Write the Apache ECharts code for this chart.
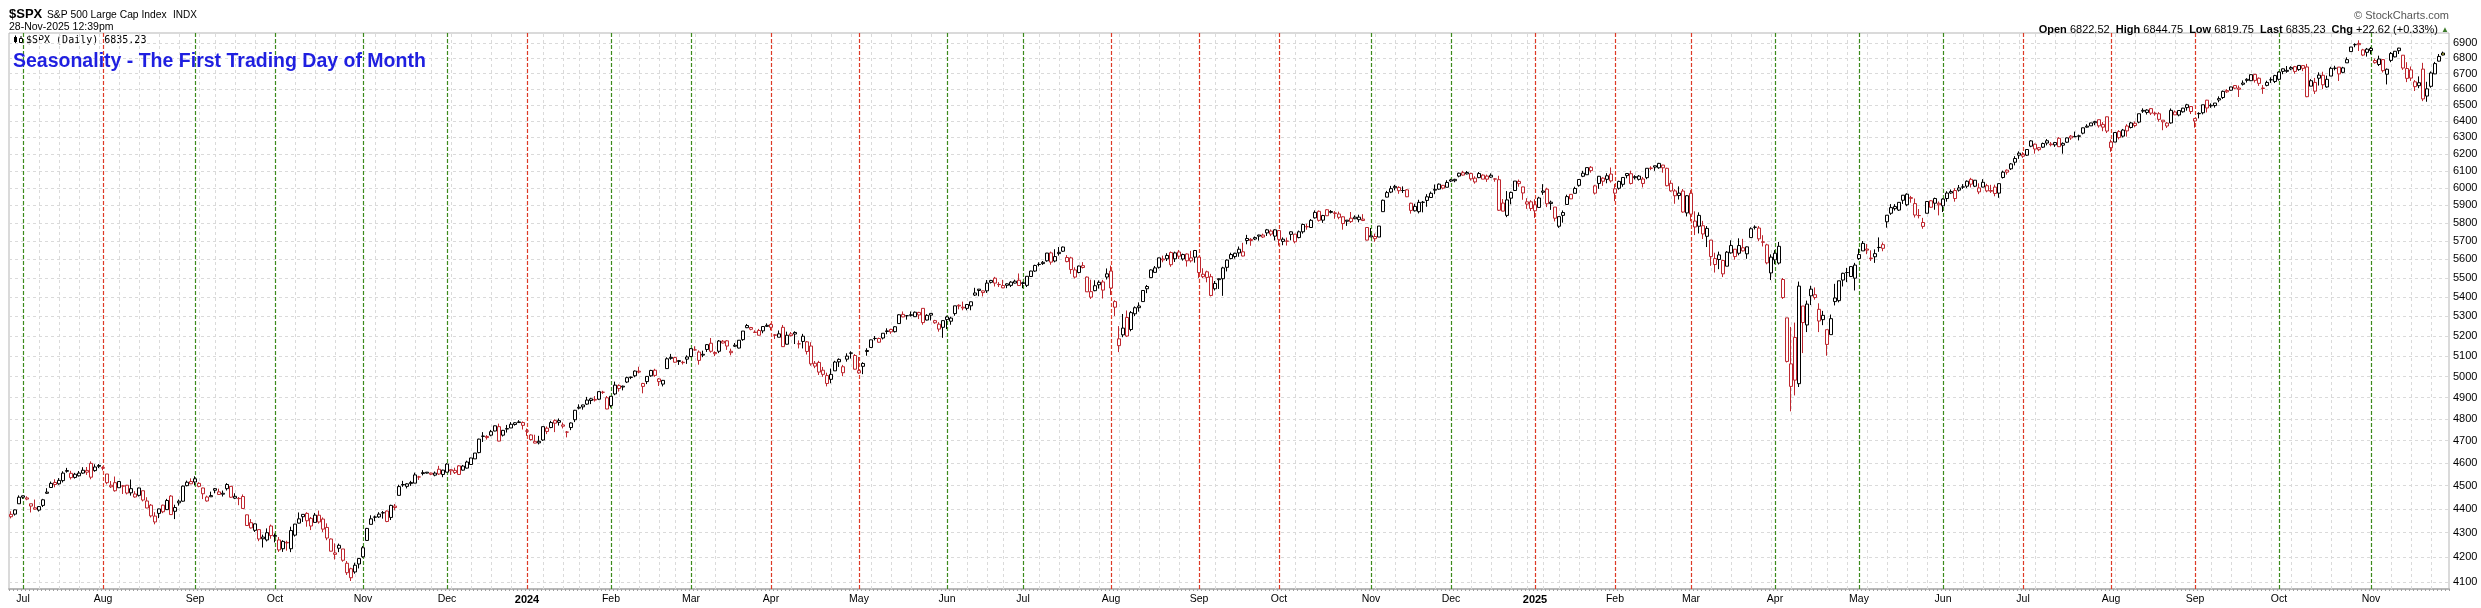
<!DOCTYPE html>
<html><head><meta charset="utf-8">
<script src="https://cdn.jsdelivr.net/npm/echarts@6/dist/echarts.min.js"></script>
<style>html,body{margin:0;padding:0;background:#fff;}#c{width:2481px;height:608px;}</style>
</head><body><div id="c"></div>
<script>
// ---- Daily rows per month: [open, high, low, close] ($SPX) ----
const priorClose = 4378.41; // close before first visible day
const m2023_06=[[4367,4390,4360,4377],[4378,4398,4372,4396],[4422,4458,4422,4450]];
const m2023_07=[[4450,4457,4443,4456],[4442,4454,4437,4447],[4422,4422,4385,4412],[4405,4440,4397,4399],[4395,4412,4389,4410],[4415,4443,4408,4439],[4467,4489,4464,4472],[4492,4518,4492,4510],[4514,4528,4493,4505],[4508,4533,4504,4523],[4522,4563,4514,4555],[4563,4578,4557,4566],[4554,4565,4527,4535],[4550,4556,4531,4536],[4543,4564,4540,4555],[4555,4581,4552,4567.5],[4559,4582,4547,4566.8],[4598,4607,4528,4537],[4566,4594,4561,4582],[4585,4595,4577,4589]];
const m2023_08=[[4579,4585,4567,4577],[4551,4551,4506,4513],[4495,4520,4490,4502],[4513,4540,4474,4478],[4491,4520,4491,4518],[4498,4503,4464,4499],[4502,4503,4462,4468],[4487,4527,4457,4469],[4451,4476,4448,4464],[4458,4491,4453,4490],[4478,4478,4432,4438],[4434,4450,4403,4404],[4416,4421,4364,4370.4],[4345,4386,4335,4369.7],[4381,4401,4361,4400],[4416,4418,4382,4388],[4397,4443,4396,4436],[4455,4459,4375,4376],[4390,4418,4357,4406],[4426,4440,4414,4433],[4433,4501,4431,4498],[4500,4522,4497,4515],[4518,4532,4507,4508]];
const m2023_09=[[4530,4541,4501,4516],[4510,4515,4493,4497],[4490,4491,4442,4465],[4434,4457,4431,4451],[4452,4474,4452,4457],[4480,4490,4467,4487],[4473,4487,4460,4462],[4463,4479,4453,4467],[4487,4511,4479,4505],[4497,4498,4447,4450],[4446,4467,4442,4454],[4445,4451,4416,4444],[4453,4462,4401,4402],[4375,4376,4329,4330],[4342,4357,4317,4320],[4310,4338,4303,4337],[4313,4314,4265,4274],[4282,4292,4239,4275],[4270,4318,4264,4300],[4328,4334,4275,4288.1]];
const m2023_10=[[4285,4297,4260,4288.4],[4270,4282,4221,4229],[4234,4269,4221,4264],[4260,4267,4226,4258],[4234,4325,4220,4309],[4290,4337,4284,4336],[4340,4385,4339,4358],[4367,4378,4345,4377],[4381,4386,4325,4350],[4360,4366,4311,4328],[4343,4383,4343,4373.6],[4345,4393,4338,4373.2],[4357,4364,4303,4315],[4322,4339,4269,4278],[4274,4276,4223,4224],[4211,4256,4190,4217],[4236,4255,4220,4248],[4233,4233,4181,4187],[4175,4184,4128,4137],[4153,4157,4104,4117],[4140,4177,4133,4167],[4172,4195,4154,4194]];
const m2023_11=[[4201,4245,4197,4238],[4268,4320,4268,4318],[4335,4373,4335,4358],[4365,4372,4348,4366],[4366,4386,4362,4378],[4384,4391,4359,4383],[4391,4393,4344,4347],[4364,4418,4353,4415],[4406,4421,4394,4412],[4458,4504,4458,4496],[4505,4521,4495,4503],[4497,4511,4488,4508],[4509,4521,4499,4514],[4511,4557,4511,4547],[4538,4543,4525,4538],[4553,4568,4545,4557],[4555,4560,4553,4559],[4555,4557,4546,4550],[4546,4562,4541,4555],[4572,4587,4547,4551],[4549,4570,4537,4568]];
const m2023_12=[[4559,4599,4558,4595],[4565,4572,4547,4570],[4557,4579,4551,4567],[4587,4590,4547,4549],[4568,4591,4566,4586],[4577,4610,4575,4604],[4593,4623,4593,4622],[4618,4644,4618,4644],[4646,4709,4643,4707],[4721,4739,4694,4719.6],[4714,4725,4705,4719.2],[4725,4749,4720,4741],[4744,4769,4743,4768],[4764,4778,4697,4698],[4725,4749,4719,4747],[4753,4772,4737,4755],[4758,4785,4758,4775],[4774,4785,4769,4782],[4786,4794,4781,4783],[4783,4788,4751,4770]];
const m2024_01=[[4745,4755,4722,4743],[4726,4729,4700,4705],[4697,4727,4688,4689],[4690,4722,4683,4697],[4703,4765,4699,4764],[4742,4765,4730,4757],[4760,4791,4757,4783],[4792,4798,4739,4780],[4792,4802,4769,4784],[4772,4783,4756,4766],[4739,4744,4715,4739],[4760,4784,4748,4781],[4796,4842,4785,4840],[4854,4868,4844,4850],[4856,4866,4843,4865],[4888,4903,4865,4869],[4886,4899,4869,4894],[4888,4907,4881,4891],[4892,4929,4888,4928],[4925,4932,4917,4925],[4899,4907,4845,4846]];
const m2024_02=[[4862,4907,4853,4906],[4917,4976,4911,4959],[4957,4963,4928,4943],[4950,4957,4934,4954],[4974,5000,4969,4995],[4996,5000,4988,4998],[5004,5030,4997,5027],[5026,5048,5016,5022],[4967,4970,4920,4953],[4976,5003,4964,5001],[5004,5033,4999,5030],[5031,5038,4999,5006],[4989,4993,4955,4976],[4964,4984,4953,4982],[5039,5094,5038,5087],[5094,5111,5082,5089],[5093,5097,5068,5070],[5074,5081,5057,5078],[5068,5077,5059,5070],[5085,5104,5062,5096]];
const m2024_03=[[5098,5140,5095,5137],[5131,5149,5127,5131],[5120,5128,5058,5079],[5109,5127,5095,5105],[5133,5160,5121,5157],[5164,5190,5117,5124],[5112,5124,5100,5118],[5124,5180,5115,5175],[5174,5180,5163,5165],[5176,5180,5131,5150],[5124,5137,5104,5117],[5154,5165,5145,5149],[5140,5180,5138,5179],[5182,5225,5176,5225],[5253,5261,5240,5242],[5243,5246,5229,5234],[5220,5229,5216,5218],[5228,5236,5203,5204],[5226,5249,5214,5248],[5249,5264,5246,5254]];
const m2024_04=[[5258,5264,5229,5244],[5204,5209,5185,5206],[5194,5228,5194,5211],[5244,5256,5146,5147],[5159,5222,5158,5204],[5211,5220,5198,5202],[5218,5224,5160,5210],[5161,5178,5138,5161],[5173,5211,5138,5199],[5171,5175,5108,5123],[5150,5169,5053,5062],[5065,5076,5041,5051],[5069,5077,5008,5022],[5031,5047,4999,5011],[5005,5019,4953,4967],[4987,5039,4968,5011],[5028,5077,5028,5071],[5084,5089,5047,5072],[5019,5057,5002,5048],[5085,5114,5073,5100],[5114,5124,5088,5116],[5103,5110,5035,5036]];
const m2024_05=[[5029,5096,5014,5018],[5050,5070,5012,5064],[5123,5139,5102,5128],[5143,5182,5143,5181],[5188,5200,5178,5187.70],[5169,5192,5166,5187.67],[5190,5214,5183,5214],[5226,5239,5209,5223],[5233,5237,5211,5221],[5222,5250,5218,5247],[5263,5311,5263,5308],[5310,5325,5296,5297],[5303,5306,5283,5303],[5305,5325,5299,5308],[5298,5325,5297,5321],[5320,5323,5286,5307],[5341,5342,5257,5268],[5281,5311,5279,5305],[5315,5315,5279,5306],[5278,5282,5262,5267],[5260,5270,5222,5235],[5244,5280,5191,5278]];
const m2024_06=[[5297,5303,5235,5283],[5275,5298,5257,5291],[5314,5354,5303,5354],[5357,5362,5336,5353],[5343,5376,5331,5347],[5341,5362,5331,5361],[5354,5376,5331,5375],[5410,5448,5405,5421],[5441,5442,5404,5434],[5423,5433,5403,5432],[5432,5489,5421,5473],[5477,5490,5471,5487],[5499,5506,5455,5473],[5466,5478,5452,5465],[5460,5490,5446,5448],[5461,5472,5446,5469],[5461,5483,5452,5478],[5473,5491,5471,5483],[5488,5524,5460,5460]];
const m2024_07=[[5471,5480,5446,5475],[5461,5510,5452,5509],[5508,5539,5507,5537],[5537,5571,5533,5567],[5572,5584,5562,5573],[5584,5591,5570,5577],[5592,5635,5587,5634],[5635,5642,5571,5585],[5591,5655,5584,5615],[5638,5667,5620,5631],[5644,5670,5640,5667],[5610,5623,5584,5588],[5608,5614,5522,5545],[5543,5557,5497,5505],[5529,5566,5525,5564],[5566,5585,5551,5556],[5505,5508,5426,5427],[5428,5491,5390,5399],[5433,5488,5430,5459],[5477,5487,5444,5464],[5479,5490,5392,5436],[5505,5551,5492,5522]];
const m2024_08=[[5537,5566,5410,5447],[5376,5383,5302,5347],[5152,5250,5120,5186],[5206,5312,5194,5240],[5294,5330,5195,5200],[5233,5327,5224,5319],[5313,5351,5301,5344.2],[5353,5372,5324,5344.4],[5376,5436,5376,5434],[5443,5463,5420,5455],[5502,5546,5502,5543],[5530,5564,5528,5554],[5557,5609,5550,5608],[5602,5620,5584,5597],[5603,5633,5591,5621],[5637,5643,5560,5571],[5603,5642,5586,5635],[5640,5651,5602,5617],[5602,5631,5593,5626],[5629,5632,5561,5592.2],[5608,5646,5583,5592.0],[5612,5651,5582,5648]];
const m2024_09=[[5612,5615,5500,5529],[5507,5552,5499,5520],[5533,5539,5477,5503],[5507,5522,5403,5408],[5443,5484,5434,5471],[5491,5497,5442,5496],[5496,5560,5406,5554],[5557,5600,5535,5596],[5604,5636,5600,5626],[5615,5636,5604,5633],[5655,5670,5614,5635],[5641,5690,5616,5618],[5703,5734,5682,5714],[5709,5716,5674,5703],[5711,5725,5705,5719],[5727,5735,5702,5733],[5733,5741,5717,5722],[5762,5767,5728,5745],[5755,5764,5727,5738],[5727,5765,5703,5762]];
const m2024_10=[[5758,5758,5675,5709],[5698,5720,5677,5710],[5699,5719,5675,5700],[5737,5753,5704,5751],[5738,5739,5687,5696],[5719,5758,5715,5751],[5751,5797,5741,5792],[5779,5796,5763,5780],[5775,5822,5775,5815],[5829,5871,5825,5860],[5866,5871,5808,5815],[5816,5846,5801,5842],[5875,5878,5840,5841],[5860,5873,5854,5865],[5857,5867,5824,5854],[5832,5864,5821,5851],[5835,5838,5763,5797],[5816,5817,5784,5810],[5827,5862,5800,5808],[5833,5843,5822,5824],[5819,5847,5804,5833],[5822,5850,5811,5814],[5775,5775,5703,5705]];
const m2024_11=[[5723,5772,5723,5729],[5725,5741,5696,5713],[5722,5783,5722,5783],[5864,5933,5864,5929],[5947,5983,5946,5973],[5976,6012,5970,5996],[6009,6018,5986,6001],[6003,6010,5966,5984],[5985,6009,5971,5985],[5989,5993,5947,5949],[5912,5915,5853,5871],[5869,5909,5865,5894],[5864,5932,5854,5916.98],[5918,5925,5860,5917.11],[5928,5964,5892,5949],[5945,5979,5944,5969],[5992,6020,5964,5987],[5993,6026,5989,6022],[6015,6017,5992,5999],[6004,6045,6004,6032]];
const m2024_12=[[6040,6053,6034,6047],[6042,6053,6033,6050],[6069,6089,6062,6086],[6089,6100,6072,6075],[6082,6099,6079,6090],[6084,6089,6043,6053],[6057,6068,6025,6035],[6060,6093,6057,6084],[6075,6079,6051,6051.25],[6069,6078,6035,6051.09],[6063,6085,6059,6074],[6053,6057,6036,6051],[6048,6071,5868,5872],[5913,5936,5866,5867],[5843,5982,5833,5931],[5941,5979,5906,5974],[5985,6040,5983,6040],[6025,6049,6007,6038],[6006,6007,5932,5971],[5920,5941,5880,5907],[5920,5929,5868,5882]];
const m2025_01=[[5903,5935,5829,5869],[5888,5949,5888,5942],[5982,6022,5960,5975],[5993,6001,5890,5909],[5910,5927,5874,5918],[5890,5890,5809,5827],[5782,5836,5773,5836],[5859,5871,5802,5843],[5905,5961,5905,5950],[5963,5964,5938,5937],[5969,6007,5969,5997],[6015,6052,6007,6049],[6068,6100,6063,6086],[6077,6119,6077,6119],[6121,6128,6089,6101],[5970,6018,5962,6012],[6026,6070,5995,6068],[6057,6062,6012,6039],[6050,6086,6027,6071],[6081,6120,6031,6041]];
const m2025_02=[[5970,6023,5924,5995],[5998,6042,5990,6038],[6021,6062,6007,6061],[6072,6084,6056,6084],[6083,6101,6020,6026],[6060,6074,6049,6066],[6050,6075,6043,6069],[6026,6064,6003,6052],[6060,6116,6051,6115.07],[6116,6127,6104,6114.63],[6122,6130,6100,6130],[6118,6147,6112,6144],[6134,6135,6089,6118],[6115,6118,6009,6013],[6027,6044,5978,5983],[5983,5993,5909,5955],[5970,6009,5933,5956],[5982,5994,5858,5862],[5857,5959,5837,5955]];
const m2025_03=[[5969,5987,5810,5850],[5811,5866,5733,5778],[5782,5860,5742,5843],[5785,5812,5711,5739],[5726,5783,5667,5770],[5705,5706,5565,5615],[5604,5636,5529,5572],[5624,5642,5547,5599],[5594,5598,5505,5522],[5563,5645,5563,5639],[5635,5704,5631,5675],[5655,5655,5598,5615],[5633,5715,5622,5675],[5646,5712,5643,5663],[5630,5670,5603,5668],[5719,5776,5719,5768],[5776,5787,5764,5777],[5772,5783,5699,5712],[5696,5732,5670,5693],[5679,5685,5573,5581],[5527,5627,5489,5612]];
const m2025_04=[[5597,5650,5574,5633],[5580,5695,5572,5671],[5492,5500,5390,5397],[5292,5292,5069,5074],[4953,5246,4835,5062],[5193,5268,4910,4983],[4966,5481,4950,5457],[5353,5353,5115,5268],[5256,5381,5220,5363],[5441,5459,5358,5406],[5412,5450,5386,5397],[5336,5367,5220,5276],[5305,5328,5255,5283],[5232,5232,5102,5158],[5207,5309,5207,5288],[5395,5469,5356,5376],[5381,5485,5372,5485],[5489,5528,5455,5525],[5529,5554,5478,5529],[5508,5563,5505,5561],[5499,5581,5434,5569]];
const m2025_05=[[5626,5658,5597,5604],[5646,5700,5646,5687],[5656,5684,5628,5650],[5604,5649,5591,5607],[5614,5654,5581,5631],[5665,5720,5641,5664],[5680,5692,5644,5660],[5807,5845,5774,5844],[5855,5907,5846,5887],[5881,5907,5870,5893],[5873,5917,5868,5917],[5929,5959,5908,5958],[5903,5969,5895,5964],[5944,5954,5915,5940],[5910,5939,5831,5845],[5842,5879,5826,5842],[5781,5829,5768,5803],[5855,5922,5855,5922],[5926,5930,5887,5889],[5939,5944,5875,5912.2],[5903,5922,5843,5911.7]];
const m2025_06=[[5897,5940,5862,5936],[5939,5981,5921,5970.4],[5979,5991,5966,5970.8],[5985,5999,5921,5939],[5987,6017,5979,6000],[6005,6022,5994,6006],[6010,6044,5999,6039],[6050,6059,6003,6022],[6010,6046,6005,6045],[6000,6027,5964,5977],[6005,6051,6004,6033],[6013,6024,5975,5983],[5985,6018,5971,5981],[6005,6019,5952,5968],[5970,6025,5943,6025],[6061,6101,6055,6092.18],[6104,6108,6078,6092.16],[6112,6146,6105,6141],[6151,6187,6132,6173],[6193,6216,6171,6205]];
const m2025_07=[[6187,6211,6177,6198],[6193,6228,6189,6227],[6247,6284,6241,6279],[6259,6263,6202,6230],[6238,6242,6217,6226],[6241,6269,6236,6263],[6266,6290,6252,6280],[6256,6272,6246,6260],[6255,6273,6243,6269],[6295,6302,6242,6244],[6253,6270,6202,6264],[6271,6300,6266,6297.36],[6308,6315,6285,6296.79],[6304,6336,6304,6306],[6307,6317,6282,6310],[6326,6360,6319,6359],[6369,6381,6360,6363],[6371,6390,6370,6389],[6397,6402,6375,6390],[6409,6409,6360,6371],[6380,6394,6338,6363],[6427,6428,6327,6339]];
const m2025_08=[[6272,6287,6213,6238],[6272,6330,6272,6330],[6336,6345,6288,6299],[6308,6352,6300,6345],[6370,6381,6305,6340],[6361,6396,6355,6389],[6387,6398,6362,6373],[6394,6446,6387,6446],[6462,6480,6451,6467],[6454,6474,6441,6469],[6478,6482,6438,6449.8],[6446,6459,6434,6449.2],[6446,6456,6397,6411],[6406,6406,6344,6396],[6388,6394,6358,6370],[6389,6479,6384,6467],[6457,6466,6439,6439],[6438,6468,6430,6466],[6458,6483,6453,6481],[6484,6508,6465,6502],[6491,6493,6444,6460]];
const m2025_09=[[6401,6416,6360,6416],[6446,6455,6417,6448],[6452,6502,6442,6502],[6531,6533,6454,6482],[6499,6511,6483,6495],[6497,6513,6484,6513],[6541,6555,6518,6532],[6548,6592,6539,6587],[6592,6601,6577,6584],[6594,6616,6591,6615],[6624,6627,6600,6607],[6608,6624,6551,6600],[6640,6657,6624,6632],[6657,6671,6643,6664],[6655,6695,6653,6694],[6696,6698,6643,6657],[6671,6676,6622,6638],[6608,6627,6571,6605],[6625,6655,6619,6644],[6661,6677,6641,6661],[6650,6693,6640,6688]];
const m2025_10=[[6664,6716,6656,6711],[6732,6734,6697,6715.35],[6722,6750,6706,6715.79],[6731,6749,6723,6740],[6746,6751,6700,6715],[6727,6755,6719,6754],[6753,6756,6717,6735],[6744,6764,6550,6553],[6620,6665,6620,6655],[6588,6673,6570,6644],[6691,6709,6624,6671],[6690,6713,6601,6629],[6615,6688,6610,6664],[6685,6745,6685,6735.13],[6736,6752,6722,6735.35],[6743,6744,6653,6699],[6709,6745,6703,6738],[6771,6807,6770,6792],[6845,6876,6845,6875],[6891,6900,6874,6890.89],[6899,6920,6849,6890.59],[6856,6863,6815,6822],[6861,6869,6812,6840]];
const m2025_11=[[6866,6876,6827,6852],[6786,6799,6766,6772],[6760,6818,6750,6796],[6792,6795,6708,6720],[6697,6734,6631,6729],[6787,6842,6775,6832],[6810,6849,6807,6847],[6868,6870,6829,6851],[6821,6822,6725,6737],[6670,6775,6646,6734],[6725,6747,6654,6672],[6648,6659,6589,6617],[6623,6683,6607,6642],[6730,6771,6525,6539],[6557,6648,6521,6603],[6619,6715,6610,6705],[6699,6777,6698,6766],[6782,6829,6780,6813],[6822.52,6844.75,6819.75,6835.23]];

// price tick labels on the right axis
const priceTicks = [4100,4200,4300,4400,4500,4600,4700,4800,4900,5000,5100,5200,5300,5400,5500,5600,5700,5800,5900,6000,6100,6200,6300,6400,6500,6600,6700,6800,6900];
const monthNames = ['Jan','Feb','Mar','Apr','May','Jun','Jul','Aug','Sep','Oct','Nov','Dec'];
const holidays = new Set(['2023-07-04','2023-09-04','2023-11-23','2023-12-25','2024-01-01','2024-01-15','2024-02-19','2024-03-29','2024-05-27','2024-06-19','2024-07-04','2024-09-02','2024-11-28','2024-12-25','2025-01-01','2025-01-09','2025-01-20','2025-02-17','2025-04-18','2025-05-26','2025-06-19','2025-07-04','2025-09-01','2025-11-27']);

const monthBlocks = [[2023,6,28,m2023_06],[2023,7,1,m2023_07],[2023,8,1,m2023_08],[2023,9,1,m2023_09],[2023,10,1,m2023_10],[2023,11,1,m2023_11],[2023,12,1,m2023_12],
[2024,1,1,m2024_01],[2024,2,1,m2024_02],[2024,3,1,m2024_03],[2024,4,1,m2024_04],[2024,5,1,m2024_05],[2024,6,1,m2024_06],[2024,7,1,m2024_07],[2024,8,1,m2024_08],[2024,9,1,m2024_09],[2024,10,1,m2024_10],[2024,11,1,m2024_11],[2024,12,1,m2024_12],
[2025,1,1,m2025_01],[2025,2,1,m2025_02],[2025,3,1,m2025_03],[2025,4,1,m2025_04],[2025,5,1,m2025_05],[2025,6,1,m2025_06],[2025,7,1,m2025_07],[2025,8,1,m2025_08],[2025,9,1,m2025_09],[2025,10,1,m2025_10],[2025,11,1,m2025_11]];

const dates=[], ohlc=[], dayNum=[];
monthBlocks.forEach(([y,m,start,rows])=>{
  const days=[], nums=[];
  const nd = new Date(Date.UTC(y,m,0)).getUTCDate();
  for(let d=start; d<=nd; d++){
    const t = Date.UTC(y,m-1,d); const wd = new Date(t).getUTCDay();
    const s = y+'-'+String(m).padStart(2,'0')+'-'+String(d).padStart(2,'0');
    if(wd===0||wd===6||holidays.has(s)) continue;
    days.push(s); nums.push(Math.round(t/86400000));
  }
  if(m===11 && y===2025){ days.length = rows.length; nums.length = rows.length; }
  if(days.length!==rows.length) throw new Error('count mismatch '+y+'-'+m+': '+days.length+' vs '+rows.length);
  days.forEach((s,i)=>{dates.push(s); ohlc.push(rows[i]); dayNum.push(nums[i]);});
});

const RED='#be262e', BLK='#000000', GRN='#3c8a1c', REDL='#dd3a26', GRID='#dadada';
const candleData = ohlc.map((r,i)=>{
  const [o,h,l,c]=r; const prev = i? ohlc[i-1][3] : priorClose;
  const col = c>=prev?BLK:RED;
  const last = i===ohlc.length-1;
  return {value:[o,c,l,h], itemStyle:{color:last?'#ffff55':'#ffffff', color0:col, borderColor:col, borderColor0:col}};
});

const monthStarts=[], weekStarts=[];
for(let i=1;i<dates.length;i++){
  if(dates[i].slice(5,7)!==dates[i-1].slice(5,7)) monthStarts.push(i);
  if(Math.floor((dayNum[i]+3)/7)!==Math.floor((dayNum[i-1]+3)/7)) weekStarts.push(i);
}
const monthSet = new Set(monthStarts);
const cats = dates.concat(['']);

const FONT='"Liberation Sans", Arial, sans-serif';
const chart = echarts.init(document.getElementById('c'), null, {renderer:'canvas'});
chart.setOption({
  animation:false,
  backgroundColor:'#ffffff',
  textStyle:{fontFamily:FONT},
  grid:{left:9, top:33, width:2440, height:556, show:true, borderColor:'#b5b5b5', borderWidth:1, backgroundColor:'#ffffff'},
  xAxis:{type:'category', data:cats, boundaryGap:true,
    axisLine:{show:true, lineStyle:{color:'#b8b8b8', width:2}},
    axisTick:{show:true, interval:0, length:2, lineStyle:{color:'#a0a0a0'}},
    axisLabel:{interval:(i)=>monthSet.has(i), margin:5, color:'#000', fontSize:10.5, fontFamily:FONT,
      formatter:(v,i)=>{ if(!v) return ''; const mo=+v.slice(5,7); return mo===1? '{y|'+v.slice(0,4)+'}' : monthNames[mo-1]; },
      rich:{y:{fontWeight:'bold', fontSize:11, fontFamily:FONT, color:'#000'}}},
    splitLine:{show:false}},
  yAxis:{type:'log', logBase:10, min:4072.4, max:6969, position:'right', scale:true,
    axisLine:{show:false}, axisTick:{show:false}, axisLabel:{show:false}, splitLine:{show:false}, minorSplitLine:{show:false}},
  graphic:[
    {type:'text', x:9, y:14, style:{text:'$SPX', font:'bold 13px '+FONT, fill:'#000', verticalAlign:'middle'}},
    {type:'text', x:47, y:15, style:{text:'S&P 500 Large Cap Index', font:'10.3px '+FONT, fill:'#000', verticalAlign:'middle'}},
    {type:'text', x:173, y:15, style:{text:'INDX', font:'10px '+FONT, fill:'#000', verticalAlign:'middle'}},
    {type:'text', x:9, y:27, style:{text:'28-Nov-2025 12:39pm', font:'10.5px '+FONT, fill:'#000', verticalAlign:'middle'}},
    {type:'text', x:2449, y:16, style:{text:'© StockCharts.com', font:'11px '+FONT, fill:'#555', align:'right', verticalAlign:'middle'}},
    {type:'text', x:2438, y:30, style:{text:'{b|Open} 6822.52  {b|High} 6844.75  {b|Low} 6819.75  {b|Last} 6835.23  {b|Chg} +22.62 (+0.33%)', font:'11px '+FONT, fill:'#000', align:'right', verticalAlign:'middle', rich:{b:{font:'bold 11px '+FONT, fill:'#000'}}}},
    {type:'text', x:2445, y:30, style:{text:'▲', font:'8px '+FONT, fill:'#3c7a2a', align:'center', verticalAlign:'middle'}},
    {type:'rect', shape:{x:14, y:37, width:3, height:5}, style:{fill:'#000'}},
    {type:'line', shape:{x1:15.5, y1:35.5, x2:15.5, y2:44}, style:{stroke:'#000', lineWidth:1}},
    {type:'rect', shape:{x:19.5, y:38.5, width:3, height:4}, style:{fill:'#fff', stroke:'#000', lineWidth:1}},
    {type:'line', shape:{x1:21, y1:36, x2:21, y2:38.5}, style:{stroke:'#000', lineWidth:1}},
    {type:'text', x:26, y:40, style:{text:'$SPX (Daily) 6835.23', font:'10px "DejaVu Sans Mono", monospace', fill:'#000', verticalAlign:'middle'}},
    {type:'text', x:13, y:62, style:{text:'Seasonality - The First Trading Day of Month', font:'bold 19.5px '+FONT, fill:'#1f1fe0', verticalAlign:'middle'}, z:100}
  ],
  series:[
    {type:'line', name:'grid', data:[], z:1, silent:true,
      markLine:{silent:true, symbol:['none','none'], animation:false,
        lineStyle:{color:GRID, width:1, type:[3,3]},
        label:{show:false},
        data: weekStarts.map(i=>({xAxis:dates[i]})).concat(priceTicks.map(v=>({yAxis:v,
          label:{show:true, position:'end', distance:4, formatter:String(v), color:'#000', fontSize:11, fontFamily:FONT}})))}},
    {type:'line', name:'months', data:[], z:2, silent:true,
      markLine:{silent:true, symbol:['none','none'], animation:false, label:{show:false},
        data: monthStarts.map(i=>({xAxis:dates[i], lineStyle:{color: ohlc[i][3]>=ohlc[i-1][3]?GRN:REDL, width:1.2, type:[4,2]}}))}},
    {type:'candlestick', name:'$SPX', data:candleData, z:5, large:false, progressive:0, barWidth:3,
      itemStyle:{borderWidth:1}}
  ]
});
</script></body></html>
